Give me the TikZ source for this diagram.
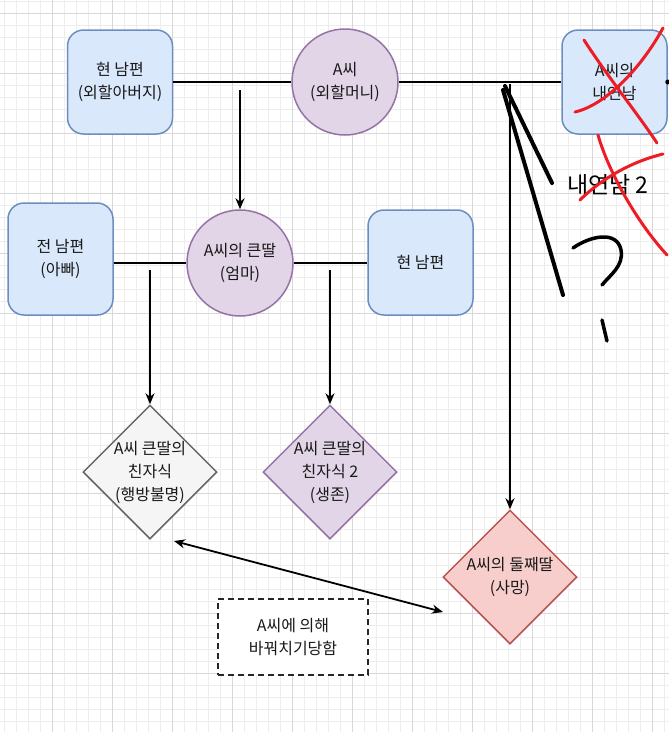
\documentclass[tikz,border=0pt]{standalone}
\usepackage{fontspec}
\setmainfont{Noto Sans CJK KR}
\usetikzlibrary{shapes.geometric,arrows.meta}
\definecolor{bluefill}{HTML}{DAE8FC}
\definecolor{bluestroke}{HTML}{6C8EBF}
\definecolor{purplefill}{HTML}{E1D5E7}
\definecolor{purplestroke}{HTML}{9673A6}
\definecolor{grayfill}{HTML}{F5F5F5}
\definecolor{graystroke}{HTML}{666666}
\definecolor{redfill}{HTML}{F8CECC}
\definecolor{redstroke}{HTML}{B85450}
\definecolor{gridminor}{HTML}{EDEDED}
\definecolor{gridmajor}{HTML}{D8D8D8}
\definecolor{pen}{HTML}{EE1C25}
\newcommand{\lbl}{\fontsize{16}{23}\selectfont}
\tikzset{
  person/.style={rectangle, rounded corners=16pt, draw=bluestroke, fill=bluefill, line width=1.5pt, minimum width=105pt, minimum height=104pt, align=center, font=\lbl, text=black!90},
  female/.style={circle, draw=purplestroke, fill=purplefill, line width=1.5pt, minimum size=106pt, inner sep=0pt, align=center, font=\lbl, text=black!90},
  kidshape/.style={diamond, aspect=1, minimum width=134pt, minimum height=134pt, inner sep=0pt, line width=1.5pt},
  kidtext/.style={align=center, font=\lbl, text=black!90, inner sep=0pt},
  conn/.style={line width=1.8pt, black},
  arr/.style={conn, -{Stealth[length=11pt,width=9pt]}},
  darr/.style={conn, {Stealth[length=11pt,width=9pt]}-{Stealth[length=11pt,width=9pt]}},
  notebox/.style={rectangle, draw=black!85, dash pattern=on 6pt off 4pt, line width=2.2pt, fill=white, minimum width=150pt, minimum height=76pt, align=center, font=\lbl, text=black!90},
  handblack/.style={line width=4pt, black, line cap=round, line join=round},
  handred/.style={line width=3pt, pen, line cap=round, line join=round}
}
\begin{document}
\begin{tikzpicture}[x=1pt,y=-1pt]
\useasboundingbox (0,0) rectangle (669,732);
\fill[white] (0,0) rectangle (669,732);
% grid
\foreach \i in {0,...,55} {\draw[gridminor, line width=0.8pt] ({4+12*\i},0) -- ({4+12*\i},732);}
\foreach \i in {0,...,60} {\draw[gridminor, line width=0.8pt] (0,{1+12*\i}) -- (669,{1+12*\i});}
\foreach \i in {0,...,10} {\draw[gridmajor, line width=1pt] ({52+60*\i},0) -- ({52+60*\i},732);}
\foreach \i in {0,...,11} {\draw[gridmajor, line width=1pt] (0,{13+60*\i}) -- (669,{13+60*\i});}

% top row
\node[person] (gf) at (120,82) {현 남편\\(외할아버지)};
\node[female] (gm) at (345,82) {A씨\\(외할머니)};
\node[person] (lover) at (614.5,82) {A씨의\\내연남};
\draw[conn] (gf.east) -- (gm.west);
\draw[conn] (gm.east) -- (lover.west);
\fill[black] (lover.east) circle (2.5);

% second row
\node[person, minimum height=112pt] (ex) at (60.5,259) {전 남편\\(아빠)};
\node[female] (mom) at (240,263) {A씨의 큰딸\\(엄마)};
\node[person, minimum height=105pt] (cur) at (420.5,262.5) {현 남편};
\draw[conn] (ex.east |- mom) -- (mom.west);
\draw[conn] (mom.east) -- (cur.west |- mom);

% children
\node[kidshape, draw=graystroke, fill=grayfill] (k1) at (150,472) {};
\node[kidtext] at (k1) {A씨 큰딸의\\친자식\\(행방불명)};
\node[kidshape, draw=purplestroke, fill=purplefill] (k2) at (330,472) {};
\node[kidtext] at (k2) {A씨 큰딸의\\친자식 2\\(생존)};
\node[kidshape, draw=redstroke, fill=redfill] (k3) at (510,577) {};
\node[kidtext] at (k3) {A씨의 둘째딸\\(사망)};

% arrows
\coordinate (a1) at (240,90);
\draw[arr] (a1) -- (mom.north);
\coordinate (b1) at (150,270);
\draw[arr] (b1) -- (k1.north);
\coordinate (b2) at (330,270);
\draw[arr] (b2) -- (k2.north);
\coordinate (c1) at (510,84);
\draw[arr] (c1) -- (k3.north);
\coordinate (d1) at (174,541);
\coordinate (d2) at (443,612);
\draw[darr] (d1) -- (d2);

% note
\node[notebox] (note) at (293,637) {A씨에 의해\\바꿔치기당함};

% hand-drawn annotations
\node[font=\fontsize{23}{26}\selectfont, text=black, inner sep=0pt] (l2) at (608,185) {내연남 2};
\coordinate (h0) at (505,86);
\coordinate (h1) at (552,183);
\coordinate (h2) at (503,90);
\coordinate (h3) at (563,295);
\draw[handblack] (h0) -- (h1);
\draw[handblack] (h2) -- (h3);
\draw[handblack, line width=3.5pt] (573,248) .. controls (590,236) and (617,230) .. (621,250) .. controls (624,266) and (610,275) .. (602,285);
\draw[handblack, line width=3.5pt] (602,320) -- (607,341);

% red crosses
\draw[handred] (584,40) .. controls (610,80) and (635,110) .. (657,143);
\draw[handred] (575,112) .. controls (605,105) and (640,70) .. (663,28);
\draw[handred] (598,135) .. controls (608,170) and (635,220) .. (667,255);
\draw[handred] (580,200) .. controls (600,180) and (630,162) .. (663,154);
\end{tikzpicture}
\end{document}
